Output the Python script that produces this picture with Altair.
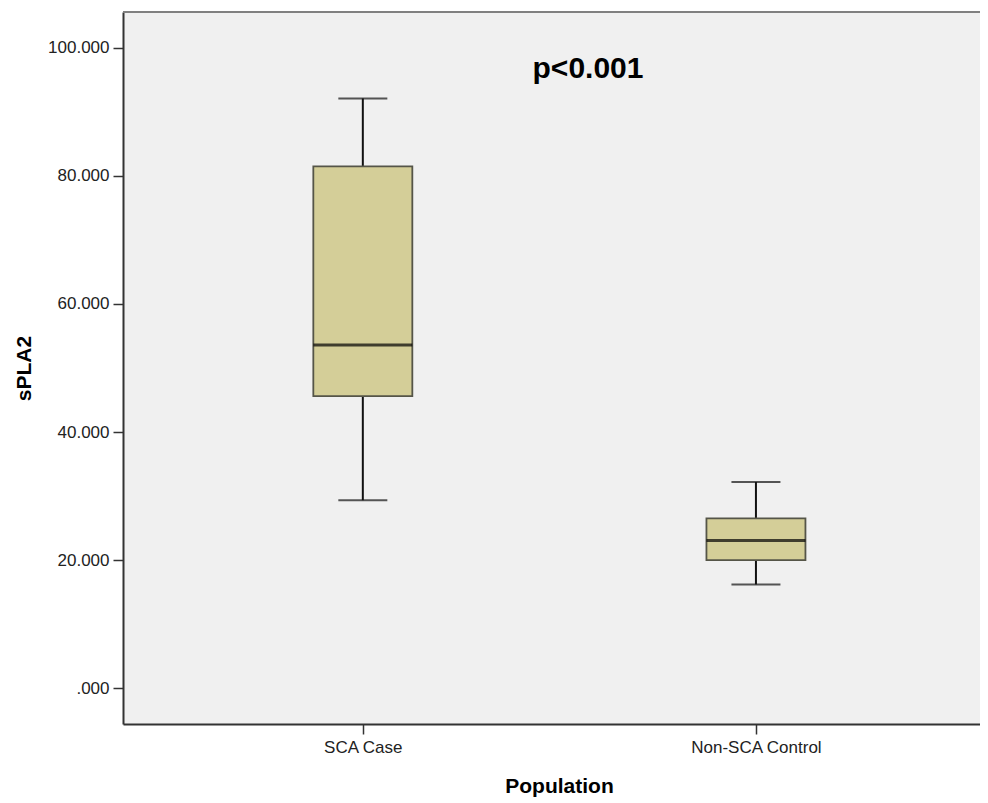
import altair as alt
import pandas as pd

groups = ["SCA Case", "Non-SCA Control"]
low = [29.35, 16.2]
q1 = [45.6, 20.0]
median = [53.6, 23.05]
q3 = [81.5, 26.5]
high = [92.1, 32.2]
y_ticks = [0, 20, 40, 60, 80, 100]
annotation = ["p<0.001"]
annotation_y = [96.7]

df = pd.DataFrame({"group": groups, "low": low, "q1": q1, "median": median, "q3": q3, "high": high})
ann = pd.DataFrame({"label": annotation, "y": annotation_y})

FONT = "Liberation Sans"
W, H = 857, 712

xscale = alt.Scale(type="point", domain=groups, padding=0.59, align=0.517)
yscale = alt.Scale(domain=[-5.6, 105.6], nice=False, zero=False)

xenc = alt.X("group:N", scale=xscale, sort=groups,
             axis=alt.Axis(title="Population", labelAngle=0, tickSize=10, tickWidth=1.5,
                           tickColor="#333333", domainColor="#333333", domainWidth=2,
                           labelFontSize=17, labelFont=FONT, labelColor="#222222", labelPadding=5,
                           titleFontSize=21, titleFont=FONT, titleFontWeight="bold",
                           titleColor="#000000", titleX=436, titleY=62, titleBaseline="middle"))
yaxis = alt.Axis(title="sPLA2", values=y_ticks, grid=False, tickSize=10, tickWidth=1.5,
                 tickColor="#333333", domainColor="#333333", domainWidth=2,
                 labelExpr="datum.value == 0 ? '.000' : format(datum.value, '.3f')",
                 labelFontSize=17, labelFont=FONT, labelColor="#222222", labelPadding=4,
                 titleFontSize=21, titleFont=FONT, titleFontWeight="bold", titleColor="#000000",
                 titleAngle=270, titleX=-99, titleY=H / 2, titleBaseline="middle")

base = alt.Chart(df)

whisk_hi = base.mark_rule(color="#111111", strokeWidth=2).encode(
    x=xenc, y=alt.Y("q3:Q", scale=yscale, axis=yaxis), y2="high:Q")
whisk_lo = base.mark_rule(color="#111111", strokeWidth=2).encode(
    x=alt.X("group:N", scale=xscale, sort=groups), y=alt.Y("low:Q", scale=yscale), y2="q1:Q")
cap_hi = base.mark_tick(color="#111111", size=49, thickness=2, orient="horizontal").encode(
    x=alt.X("group:N", scale=xscale, sort=groups), y=alt.Y("high:Q", scale=yscale))
cap_lo = base.mark_tick(color="#111111", size=49, thickness=2, orient="horizontal").encode(
    x=alt.X("group:N", scale=xscale, sort=groups), y=alt.Y("low:Q", scale=yscale))
box = base.mark_bar(size=99, fill="#d4ce98", stroke="#555548", strokeWidth=1.8).encode(
    x=alt.X("group:N", scale=xscale, sort=groups), y=alt.Y("q1:Q", scale=yscale), y2="q3:Q")
med = base.mark_tick(color="#000000", size=99, thickness=3, orient="horizontal").encode(
    x=alt.X("group:N", scale=xscale, sort=groups), y=alt.Y("median:Q", scale=yscale))

top_border = alt.Chart(ann).mark_rule(color="#808080", strokeWidth=2).encode(y=alt.value(0))

label = alt.Chart(ann).mark_text(font=FONT, fontSize=30, fontWeight="bold", color="#000000",
                                 align="center", baseline="middle").encode(
    x=alt.value(465), y=alt.Y("y:Q", scale=yscale), text="label:N")

chart = alt.layer(whisk_hi, whisk_lo, cap_hi, cap_lo, box, med, top_border, label).properties(
    width=W, height=H,
    autosize=alt.AutoSizeParams(type="none"),
    padding={"left": 115, "top": 4, "right": 0, "bottom": 74},
    background="#ffffff",
).configure_view(fill="#f0f0f0", stroke=None)

chart.save("out.html", embed_options={"renderer": "svg", "actions": False})
